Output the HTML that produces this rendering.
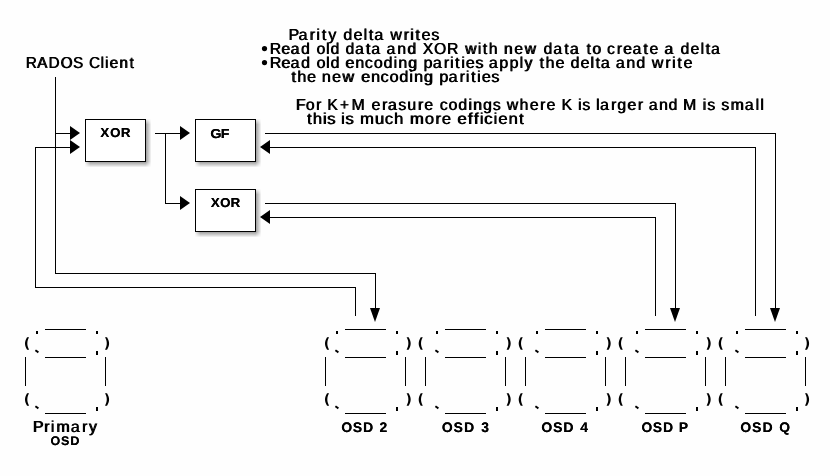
<!DOCTYPE html>
<html><head><meta charset="utf-8"><style>
html,body{margin:0;padding:0;background:#fefefe;}
body{width:830px;height:476px;overflow:hidden;}
svg{display:block;filter:grayscale(1);}
text{font-family:"Liberation Sans",sans-serif;fill:#000;text-rendering:geometricPrecision;font-kerning:none;font-variant-ligatures:none;}
</style></head><body>
<svg width="830" height="476" viewBox="0 0 830 476">
<defs><path id="lp" d="M772 -270H475Q322 -23 249 199.5Q176 422 176 641Q176 860 249.5 1084.5Q323 1309 475 1554H772Q644 1317 580 1090.5Q516 864 516 643Q516 422 579.5 195Q643 -32 772 -270Z" transform="scale(0.0068359 -0.0068359)"/>
<path id="rp" d="M164 -270Q292 -32 356 195Q420 422 420 643Q420 864 356 1090.5Q292 1317 164 1554H461Q613 1309 686.5 1084.5Q760 860 760 641Q760 422 687 199.5Q614 -23 461 -270Z" transform="scale(0.0068359 -0.0068359)"/><filter id="blur" filterUnits="userSpaceOnUse" x="0" y="0" width="830" height="476"><feConvolveMatrix order="6" kernelMatrix="1 1 1 1 1 1 1 1 1 1 1 1 1 1 1 1 1 1 1 1 1 1 1 1 1 1 1 1 1 1 1 1 1 1 1 1" divisor="36" targetX="2" targetY="2" edgeMode="none" preserveAlpha="false"/></filter></defs>
<rect x="0" y="0" width="830" height="476" fill="#fefefe"/>
<g filter="url(#blur)">
<rect x="88" y="122" width="61" height="43" fill="rgb(150,150,150)"/>
<rect x="198" y="122" width="61" height="43" fill="rgb(150,150,150)"/>
<rect x="198" y="192" width="61" height="43" fill="rgb(150,150,150)"/>
</g>
<rect x="85.5" y="119.5" width="60" height="42" fill="#fff" stroke="#000" stroke-width="1"/>
<rect x="195.5" y="119.5" width="60" height="42" fill="#fff" stroke="#000" stroke-width="1"/>
<rect x="195.5" y="189.5" width="60" height="42" fill="#fff" stroke="#000" stroke-width="1"/>
<g fill="#000">
<rect x="55" y="133" width="16" height="1"/>
<rect x="35" y="147" width="36" height="1"/>
<rect x="155" y="133" width="26" height="1"/>
<rect x="165" y="203" width="16" height="1"/>
<rect x="265" y="133" width="511" height="1"/>
<rect x="270" y="147" width="486" height="1"/>
<rect x="265" y="203" width="411" height="1"/>
<rect x="270" y="217" width="386" height="1"/>
<rect x="55" y="273" width="321" height="1"/>
<rect x="35" y="287" width="321" height="1"/>
<rect x="55" y="77" width="1" height="197"/>
<rect x="35" y="147" width="1" height="141"/>
<rect x="165" y="133" width="1" height="71"/>
<rect x="775" y="133" width="1" height="176"/>
<rect x="755" y="147" width="1" height="169"/>
<rect x="675" y="203" width="1" height="106"/>
<rect x="655" y="217" width="1" height="99"/>
<rect x="375" y="273" width="1" height="36"/>
<rect x="355" y="287" width="1" height="29"/>
<polygon points="70,126 80,133 70,140"/>
<polygon points="70,140 80,147 70,154"/>
<polygon points="180,126 190,133 180,140"/>
<polygon points="180,196 190,203 180,210"/>
<polygon points="270,140 260,147 270,154"/>
<polygon points="270,210 260,217 270,224"/>
<polygon points="370,308 380,308 375,322"/>
<polygon points="670,308 680,308 675,322"/>
<polygon points="770,308 780,308 775,322"/>
<rect x="45" y="329" width="41" height="1"/>
<rect x="45" y="357" width="41" height="1"/>
<rect x="45" y="413" width="41" height="1"/>
<rect x="25" y="357" width="1" height="29"/>
<rect x="105" y="357" width="1" height="29"/>
<rect x="36" y="331" width="2" height="3"/>
<rect x="96" y="331" width="2" height="3"/>
<rect x="96" y="351" width="2" height="4"/>
<path d="M35.4 350.3L38.4 352.4" stroke="#000" stroke-width="1.9" fill="none"/>
<rect x="96" y="407" width="2" height="4"/>
<path d="M35.4 406.3L38.4 408.4" stroke="#000" stroke-width="1.9" fill="none"/>
<rect x="345" y="329" width="41" height="1"/>
<rect x="345" y="357" width="41" height="1"/>
<rect x="345" y="413" width="41" height="1"/>
<rect x="325" y="357" width="1" height="29"/>
<rect x="405" y="357" width="1" height="29"/>
<rect x="336" y="331" width="2" height="3"/>
<rect x="396" y="331" width="2" height="3"/>
<rect x="396" y="351" width="2" height="4"/>
<path d="M335.4 350.3L338.4 352.4" stroke="#000" stroke-width="1.9" fill="none"/>
<rect x="396" y="407" width="2" height="4"/>
<path d="M335.4 406.3L338.4 408.4" stroke="#000" stroke-width="1.9" fill="none"/>
<rect x="445" y="329" width="41" height="1"/>
<rect x="445" y="357" width="41" height="1"/>
<rect x="445" y="413" width="41" height="1"/>
<rect x="425" y="357" width="1" height="29"/>
<rect x="505" y="357" width="1" height="29"/>
<rect x="436" y="331" width="2" height="3"/>
<rect x="496" y="331" width="2" height="3"/>
<rect x="496" y="351" width="2" height="4"/>
<path d="M435.4 350.3L438.4 352.4" stroke="#000" stroke-width="1.9" fill="none"/>
<rect x="496" y="407" width="2" height="4"/>
<path d="M435.4 406.3L438.4 408.4" stroke="#000" stroke-width="1.9" fill="none"/>
<rect x="545" y="329" width="41" height="1"/>
<rect x="545" y="357" width="41" height="1"/>
<rect x="545" y="413" width="41" height="1"/>
<rect x="525" y="357" width="1" height="29"/>
<rect x="605" y="357" width="1" height="29"/>
<rect x="536" y="331" width="2" height="3"/>
<rect x="596" y="331" width="2" height="3"/>
<rect x="596" y="351" width="2" height="4"/>
<path d="M535.4 350.3L538.4 352.4" stroke="#000" stroke-width="1.9" fill="none"/>
<rect x="596" y="407" width="2" height="4"/>
<path d="M535.4 406.3L538.4 408.4" stroke="#000" stroke-width="1.9" fill="none"/>
<rect x="645" y="329" width="41" height="1"/>
<rect x="645" y="357" width="41" height="1"/>
<rect x="645" y="413" width="41" height="1"/>
<rect x="625" y="357" width="1" height="29"/>
<rect x="705" y="357" width="1" height="29"/>
<rect x="636" y="331" width="2" height="3"/>
<rect x="696" y="331" width="2" height="3"/>
<rect x="696" y="351" width="2" height="4"/>
<path d="M635.4 350.3L638.4 352.4" stroke="#000" stroke-width="1.9" fill="none"/>
<rect x="696" y="407" width="2" height="4"/>
<path d="M635.4 406.3L638.4 408.4" stroke="#000" stroke-width="1.9" fill="none"/>
<rect x="745" y="329" width="41" height="1"/>
<rect x="745" y="357" width="41" height="1"/>
<rect x="745" y="413" width="41" height="1"/>
<rect x="725" y="357" width="1" height="29"/>
<rect x="805" y="357" width="1" height="29"/>
<rect x="736" y="331" width="2" height="3"/>
<rect x="796" y="331" width="2" height="3"/>
<rect x="796" y="351" width="2" height="4"/>
<path d="M735.4 350.3L738.4 352.4" stroke="#000" stroke-width="1.9" fill="none"/>
<rect x="796" y="407" width="2" height="4"/>
<path d="M735.4 406.3L738.4 408.4" stroke="#000" stroke-width="1.9" fill="none"/>
<use href="#lp" x="23.80" y="347.80"/>
<use href="#lp" x="323.80" y="347.80"/>
<use href="#rp" x="103.88" y="347.80"/>
<use href="#rp" x="803.88" y="347.80"/>
<use href="#rp" x="405.48" y="347.80"/>
<use href="#lp" x="417.50" y="347.80"/>
<use href="#rp" x="505.48" y="347.80"/>
<use href="#lp" x="517.50" y="347.80"/>
<use href="#rp" x="605.48" y="347.80"/>
<use href="#lp" x="617.50" y="347.80"/>
<use href="#rp" x="705.48" y="347.80"/>
<use href="#lp" x="717.50" y="347.80"/>
<use href="#lp" x="23.80" y="403.80"/>
<use href="#lp" x="323.80" y="403.80"/>
<use href="#rp" x="103.88" y="403.80"/>
<use href="#rp" x="803.88" y="403.80"/>
<use href="#rp" x="405.48" y="403.80"/>
<use href="#lp" x="417.50" y="403.80"/>
<use href="#rp" x="505.48" y="403.80"/>
<use href="#lp" x="517.50" y="403.80"/>
<use href="#rp" x="605.48" y="403.80"/>
<use href="#lp" x="617.50" y="403.80"/>
<use href="#rp" x="705.48" y="403.80"/>
<use href="#lp" x="717.50" y="403.80"/>
<circle cx="264.5" cy="48.6" r="2.6"/>
<circle cx="264.5" cy="62.6" r="2.6"/>
</g>
<g id="txm" font-weight="normal">
<text transform="translate(0 40) scale(1.0022 1)" font-size="15.9" x="287.55 297.57 308.70 315.31 320.68 327.16 336.51 342.26 352.42 362.42 367.64 373.11 383.47 389.19 402.49 408.96 414.20 420.31 430.05">Parity delta writes</text>
<text transform="translate(0 54) scale(0.9782 1)" font-size="15.9" x="275.57 287.35 296.80 307.48 317.61 323.29 333.08 337.66 347.46 352.91 362.65 373.75 379.35 389.79 394.92 405.84 416.20 426.44 431.90 443.49 456.71 468.79 475.24 488.08 493.17 499.32 509.13 514.82 525.41 536.05 549.19 555.32 565.24 576.53 582.32 592.94 599.30 605.29 614.96 620.25 630.16 636.72 646.26 657.45 663.76 673.70 678.91 689.48 695.38 705.71 715.81 721.08 726.66">Read old data and XOR with new data to create a delta</text>
<text transform="translate(0 68) scale(1.0005 1)" font-size="15.9" x="269.44 280.96 290.17 300.59 310.56 315.98 325.62 330.03 339.72 344.92 354.77 364.35 373.28 383.01 393.08 397.77 407.63 417.48 423.06 432.31 443.18 449.50 454.60 460.67 465.29 474.89 483.33 488.16 498.78 508.91 518.92 523.83 532.96 538.92 544.99 554.93 564.58 570.04 580.02 589.84 594.87 600.15 610.33 615.10 625.64 635.62 645.58 651.23 664.68 671.30 676.69 682.95">Read old encoding parities apply the delta and write</text>
<text transform="translate(0 82) scale(1.0125 1)" font-size="15.9" x="287.50 293.29 302.91 312.31 317.58 327.73 337.90 350.71 356.39 366.12 375.59 384.41 394.03 404.01 408.60 418.36 428.14 433.59 442.76 453.53 459.82 464.87 470.89 475.45 484.96">the new encoding parities</text>
<text transform="translate(0 68) scale(0.952 1)" font-size="15.9" x="26.77 38.72 50.70 63.41 76.49 87.73 93.22 105.35 110.10 114.88 125.10 135.69">RADOS Client</text>
<text transform="translate(0 110) scale(0.9879 1)" font-size="15.9" x="299.21 309.25 319.63 325.76 331.05 343.68 355.59 369.82 375.80 386.43 392.36 402.90 411.88 422.71 429.27 439.23 444.77 453.82 463.68 473.85 478.63 488.63 498.54 506.95 512.63 525.68 535.87 546.39 552.84 562.69 568.12 578.90 584.71 589.12 597.50 603.02 607.16 618.19 624.57 634.79 645.23 651.41 656.41 666.74 676.51 686.20 691.12 705.13 710.94 715.65 724.33 729.91 739.29 753.67 764.40 769.36">For K+M erasure codings where K is larger and M is small</text>
<text transform="translate(0 124) scale(1.0409 1)" font-size="15.9" x="294.66 300.29 309.93 313.99 322.12 327.25 331.57 339.96 345.56 359.90 369.36 378.25 387.95 393.50 407.86 418.02 424.18 433.86 439.16 449.21 455.01 460.55 464.84 473.93 478.46 488.18 498.44">this is much more efficient</text>
<text transform="translate(0 432) scale(0.9983 1)" font-size="15.9" x="32.67 43.93 50.65 56.18 70.64 81.90 88.77">Primary</text>
</g>
<use href="#txm" x="0.8"/>
<g id="txl" font-weight="bold">
<text transform="translate(0 137) scale(1.0206 1)" font-size="13.0" x="98.35 107.79 118.42">XOR</text>
<text transform="translate(0 138) scale(1.1 1)" font-size="13.0" x="191.21 200.58">GF</text>
<text transform="translate(0 207) scale(1.0206 1)" font-size="13.0" x="206.57 215.60 225.83">XOR</text>
<text transform="translate(0 444.8) scale(0.9952 1)" font-size="12.5" x="50.66 61.18 70.52">OSD</text>
<text transform="translate(0 432) scale(1.0039 1)" font-size="13.8" x="340.03 351.48 361.62 372.44 377.95">OSD 2</text>
<text transform="translate(0 432) scale(1.0051 1)" font-size="13.8" x="439.46 451.23 461.70 472.85 478.72">OSD 3</text>
<text transform="translate(0 432) scale(1.0107 1)" font-size="13.8" x="535.48 547.08 557.37 568.37 573.99">OSD 4</text>
<text transform="translate(0 432) scale(0.9965 1)" font-size="13.8" x="643.67 655.13 665.29 676.09 681.22">OSD P</text>
<text transform="translate(0 432) scale(1.0015 1)" font-size="13.8" x="739.19 750.99 761.48 772.64 778.00">OSD Q</text>
</g>
<use href="#txl" x="0.2"/>
</svg>
</body></html>
